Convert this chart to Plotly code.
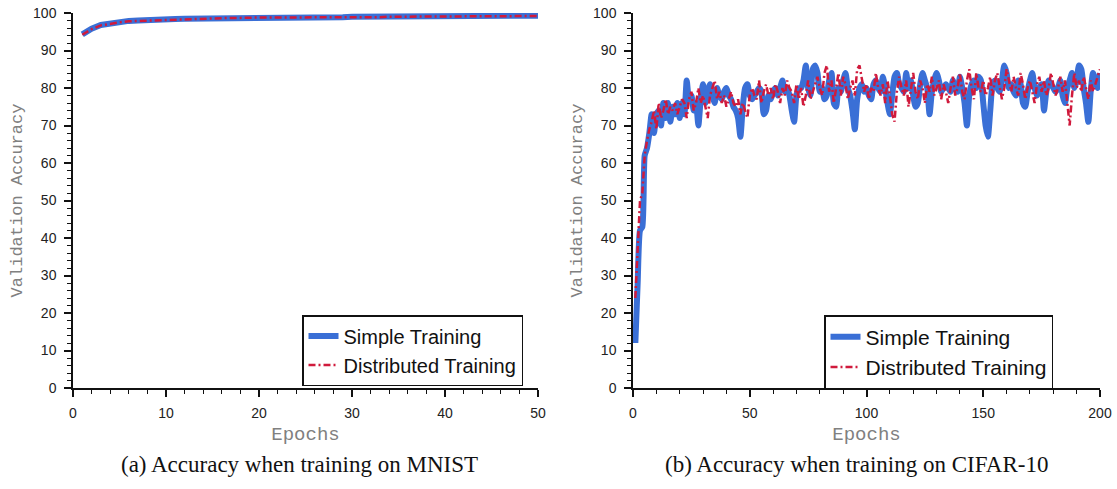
import plotly.graph_objects as go

# ---------------- data ----------------
mnist_epochs = list(range(1, 51))
mnist_simple = [94.3, 95.8, 96.8, 97.3, 97.6, 97.9, 98.0, 98.0, 98.2, 98.3,
                98.4, 98.5, 98.5, 98.6, 98.8, 98.7, 98.8, 98.8, 98.9, 98.8,
                98.9, 98.9, 98.8, 98.7, 98.8, 98.8, 98.9, 98.9, 98.9, 99.0,
                99.0, 98.9, 99.0, 99.0, 99.1, 99.0, 99.1, 99.1, 99.1, 99.2,
                99.1, 99.2, 99.2, 99.2, 99.2, 99.3, 99.2, 99.3, 99.3, 99.3]
mnist_distributed = [94.2, 95.7, 96.7, 97.2, 97.5, 97.8, 97.9, 98.0, 98.1, 98.2,
                     98.3, 98.4, 98.4, 98.5, 98.7, 98.6, 98.7, 98.7, 98.8, 98.8,
                     98.8, 98.8, 98.7, 98.7, 98.7, 98.8, 98.8, 98.9, 98.8, 98.9,
                     98.9, 98.9, 98.9, 99.0, 99.0, 99.0, 99.0, 99.1, 99.0, 99.1,
                     99.1, 99.1, 99.1, 99.2, 99.1, 99.2, 99.2, 99.2, 99.2, 99.2]

cifar_epochs = list(range(1, 201))
cifar_simple = [12, 28, 42, 43, 62, 64, 68, 73, 68, 73,
                74, 70, 76, 72, 76, 71, 75, 73, 76, 72,
                76, 73, 82, 77, 78, 74, 76, 70, 77, 81,
                76, 79, 81, 78, 76, 80, 78, 77, 79, 80,
                78, 77, 75, 74, 72, 67, 75, 80, 81, 78,
                77, 78, 79, 80, 79, 73, 74, 78, 77, 79,
                80, 78, 80, 82, 79, 80, 78, 74, 71, 78,
                80, 80, 82, 86, 80, 78, 85, 86, 84, 79,
                80, 77, 78, 82, 84, 76, 75, 80, 79, 82,
                84, 80, 78, 74, 69, 77, 80, 81, 79, 80,
                78, 77, 81, 82, 80, 79, 83, 80, 76, 73,
                78, 83, 84, 81, 80, 79, 84, 80, 82, 78,
                75, 76, 81, 84, 82, 80, 73, 79, 82, 84,
                82, 79, 80, 81, 80, 79, 82, 80, 79, 83,
                80, 76, 70, 78, 81, 82, 80, 83, 82, 76,
                70, 67, 74, 81, 82, 80, 79, 82, 86, 84,
                80, 81, 79, 78, 82, 81, 76, 75, 79, 82,
                84, 80, 78, 80, 81, 74, 79, 82, 81, 80,
                79, 80, 82, 78, 76, 80, 82, 84, 80, 82,
                86, 85, 80, 76, 71, 79, 84, 82, 80, 84]
cifar_distributed = [24, 38, 50, 52, 62, 66, 69, 71, 74, 69,
                     76, 72, 74, 77, 73, 75, 74, 76, 73, 75,
                     77, 76, 72, 77, 79, 74, 76, 80, 76, 78,
                     75, 72, 78, 80, 82, 77, 79, 76, 78, 75,
                     77, 79, 76, 75, 77, 73, 76, 74, 72, 78,
                     80, 78, 77, 82, 76, 79, 81, 78, 80, 77,
                     81, 79, 76, 80, 78, 82, 80, 79, 76, 81,
                     77, 80, 75, 78, 82, 77, 79, 81, 83, 80,
                     78, 84, 86, 79, 82, 76, 80, 84, 78, 83,
                     81, 77, 80, 82, 78, 85, 86, 82, 79, 81,
                     77, 80, 79, 84, 80, 78, 81, 76, 82, 78,
                     73, 71, 79, 83, 80, 78, 82, 75, 80, 84,
                     79, 77, 82, 80, 76, 81, 79, 83, 78, 80,
                     82, 77, 81, 79, 76, 80, 83, 78, 80, 84,
                     79, 77, 82, 85, 80, 77, 84, 80, 79, 82,
                     78, 80, 83, 78, 82, 84, 80, 77, 80, 85,
                     82, 79, 83, 80, 78, 84, 81, 77, 80, 82,
                     79, 76, 81, 83, 79, 82, 78, 80, 84, 81,
                     78, 80, 83, 79, 82, 76, 70, 78, 84, 80,
                     82, 79, 83, 80, 77, 82, 79, 81, 83, 85]

series_names = ["Simple Training", "Distributed Training"]
captions = ["(a) Accuracy when training on MNIST", "(b) Accuracy when training on CIFAR-10"]

BLUE = "#3a6fd6"
RED = "#d01a3c"
W, H = 1117, 489
RED_DASH = "7px,3px,2px,3px"

fig = go.Figure()

# left chart
fig.add_trace(go.Scatter(x=mnist_epochs, y=mnist_simple, name=series_names[0],
                         mode="lines", line=dict(color=BLUE, width=6),
                         xaxis="x", yaxis="y", legend="legend"))
fig.add_trace(go.Scatter(x=mnist_epochs, y=mnist_distributed, name=series_names[1],
                         mode="lines", line=dict(color=RED, width=2.5, dash=RED_DASH),
                         xaxis="x", yaxis="y", legend="legend"))
# right chart
fig.add_trace(go.Scatter(x=cifar_epochs, y=cifar_simple, name=series_names[0],
                         mode="lines", line=dict(color=BLUE, width=6, shape="spline", smoothing=0.6),
                         xaxis="x2", yaxis="y2", legend="legend2"))
fig.add_trace(go.Scatter(x=cifar_epochs, y=cifar_distributed, name=series_names[1],
                         mode="lines", line=dict(color=RED, width=2.5, dash=RED_DASH),
                         xaxis="x2", yaxis="y2", legend="legend2"))

tickfont = dict(family="Liberation Sans, Arial, sans-serif", size=14, color="#222")
mono = dict(family="Liberation Mono, Courier New, monospace", color="#808080")

def xaxis_cfg(domain, rng, dtick, minor_dtick, anchor):
    return dict(domain=domain, range=rng, dtick=dtick, tick0=0, anchor=anchor,
                showgrid=False, zeroline=False, showline=True, linecolor="#111", linewidth=1.5,
                ticks="outside", ticklen=7, tickwidth=1.5, tickcolor="#111",
                minor=dict(dtick=minor_dtick, ticks="outside", ticklen=4, tickwidth=1, tickcolor="#111", showgrid=False),
                tickfont=tickfont, ticklabelstandoff=4,
                title=dict(text="Epochs", font=dict(size=19, **mono), standoff=7),
                automargin=False, fixedrange=True)

def yaxis_cfg(domain, anchor):
    return dict(domain=domain, range=[0, 100], dtick=10, tick0=0, anchor=anchor,
                showgrid=False, zeroline=False, showline=True, linecolor="#111", linewidth=1.5,
                ticks="outside", ticklen=7, tickwidth=1.5, tickcolor="#111",
                minor=dict(dtick=2, ticks="outside", ticklen=4, tickwidth=1, tickcolor="#111", showgrid=False),
                tickfont=tickfont, ticklabelstandoff=5,
                title=dict(text="Validation Accuracy", font=dict(size=17, **mono), standoff=6),
                automargin=False, fixedrange=True)

legend_font = dict(family="Liberation Sans, Arial, sans-serif", color="#111")
ydom = [1 - 388 / H, 1 - 13 / H]
fig.update_layout(
    width=W, height=H,
    margin=dict(l=0, r=0, t=0, b=0),
    paper_bgcolor="white", plot_bgcolor="white",
    xaxis=xaxis_cfg([73 / W, 538 / W], [0, 50], 10, 2, "y"),
    yaxis=yaxis_cfg(ydom, "x"),
    xaxis2=xaxis_cfg([633 / W, 1100 / W], [0, 200], 50, 10, "y2"),
    yaxis2=yaxis_cfg(ydom, "x2"),
    legend=dict(x=302 / W, y=1 - 315 / H, xanchor="left", yanchor="top",
                bgcolor="white", bordercolor="#111", borderwidth=1.5,
                font=dict(size=20, **legend_font), tracegroupgap=0, itemwidth=30),
    legend2=dict(x=824 / W, y=1 - 315 / H, xanchor="left", yanchor="top",
                 bgcolor="white", bordercolor="#111", borderwidth=1.5,
                 font=dict(size=21, **legend_font), tracegroupgap=0, itemwidth=30),
    showlegend=True,
)

for cx, txt in zip([299, 856], captions):
    fig.add_annotation(x=cx / W, y=1 - 464 / H, xref="paper", yref="paper",
                       text=txt, showarrow=False, xanchor="center", yanchor="middle",
                       font=dict(family="Liberation Serif, DejaVu Serif, serif", size=23, color="#111"))

fig.write_html("out.html")
